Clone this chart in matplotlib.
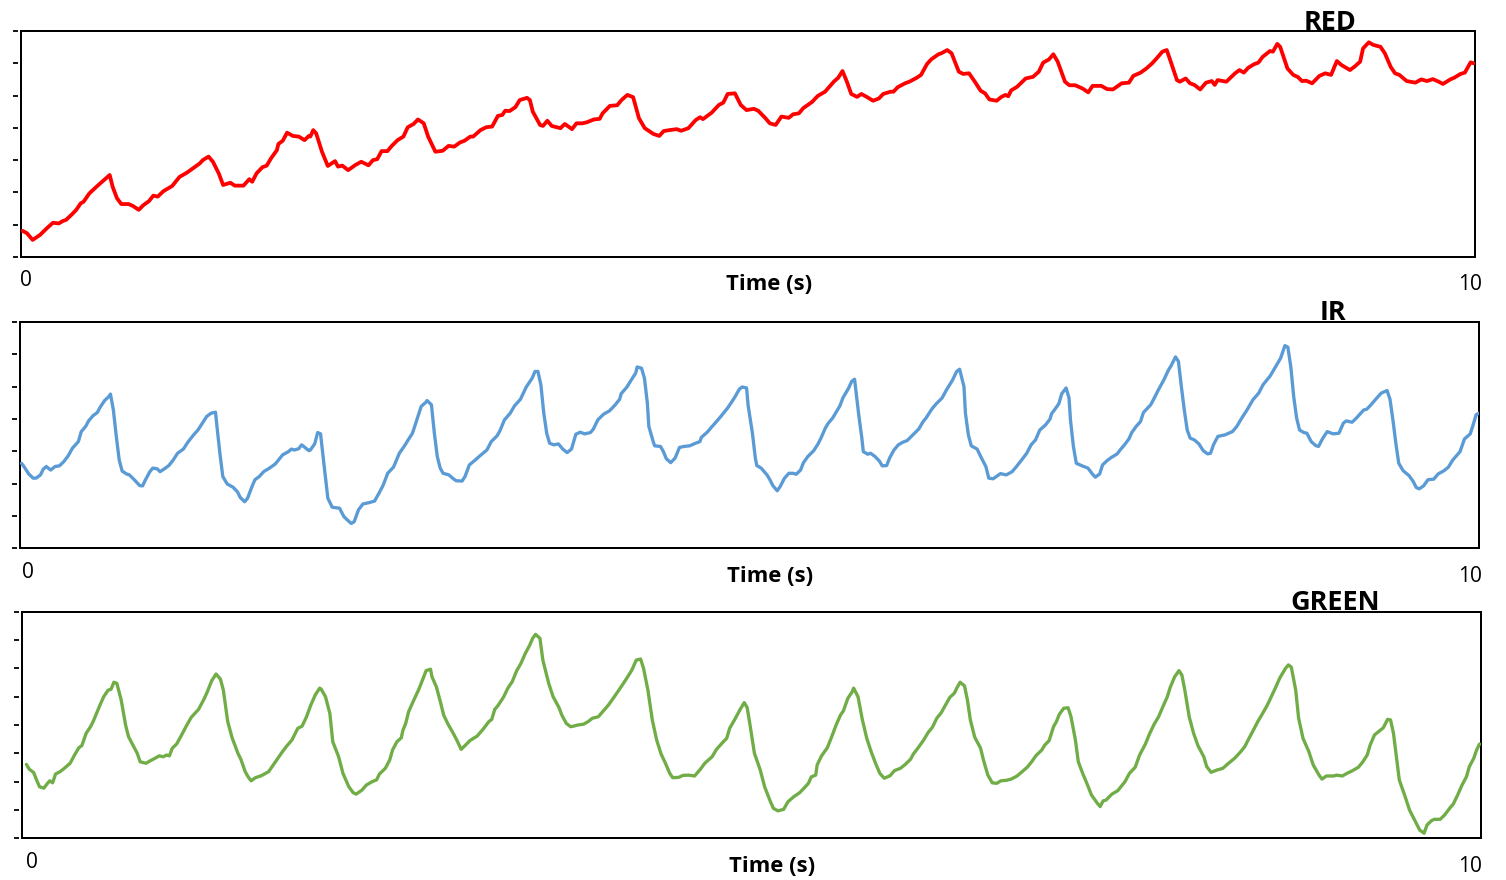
import matplotlib
matplotlib.use("Agg")
import matplotlib.pyplot as plt

# ── Data: time (s) and signal amplitude (a.u.) per channel ──────────────────
red_t = [0.01, 0.04, 0.08, 0.13, 0.18, 0.22, 0.26, 0.29, 0.31, 0.35, 0.38, 0.41, 0.43, 0.47, 0.52,
         0.57, 0.61, 0.63, 0.66, 0.69, 0.74, 0.77, 0.81, 0.84, 0.88, 0.91, 0.94, 0.98, 1.04, 1.06,
         1.09, 1.14, 1.19, 1.23, 1.25, 1.29, 1.32, 1.36, 1.39, 1.44, 1.47, 1.53, 1.57, 1.59, 1.62,
         1.66, 1.69, 1.72, 1.76, 1.77, 1.80, 1.83, 1.87, 1.91, 1.95, 1.98, 1.99, 2.01, 2.03, 2.07,
         2.11, 2.16, 2.18, 2.21, 2.25, 2.30, 2.34, 2.39, 2.42, 2.45, 2.48, 2.52, 2.55, 2.59, 2.63,
         2.66, 2.70, 2.73, 2.77, 2.80, 2.85, 2.90, 2.94, 2.98, 3.02, 3.05, 3.09, 3.11, 3.16, 3.20,
         3.24, 3.28, 3.31, 3.33, 3.36, 3.40, 3.43, 3.48, 3.50, 3.52, 3.57, 3.59, 3.62, 3.65, 3.71,
         3.74, 3.79, 3.82, 3.86, 3.89, 3.94, 3.98, 4.00, 4.05, 4.10, 4.13, 4.17, 4.21, 4.25, 4.29,
         4.35, 4.39, 4.42, 4.46, 4.51, 4.54, 4.59, 4.64, 4.67, 4.69, 4.75, 4.80, 4.83, 4.86, 4.91,
         4.95, 4.99, 5.04, 5.07, 5.12, 5.15, 5.19, 5.23, 5.28, 5.31, 5.35, 5.38, 5.44, 5.48, 5.53,
         5.59, 5.62, 5.65, 5.68, 5.71, 5.75, 5.78, 5.82, 5.86, 5.90, 5.93, 5.98, 6.00, 6.03, 6.08,
         6.11, 6.16, 6.19, 6.23, 6.26, 6.31, 6.33, 6.37, 6.40, 6.45, 6.48, 6.52, 6.56, 6.60, 6.63,
         6.66, 6.71, 6.74, 6.77, 6.79, 6.81, 6.85, 6.91, 6.96, 7.00, 7.03, 7.07, 7.10, 7.13, 7.18,
         7.21, 7.25, 7.30, 7.34, 7.37, 7.43, 7.47, 7.51, 7.57, 7.62, 7.65, 7.70, 7.74, 7.78, 7.81,
         7.85, 7.88, 7.90, 7.95, 7.97, 8.01, 8.04, 8.07, 8.11, 8.15, 8.19, 8.21, 8.23, 8.29, 8.35,
         8.38, 8.41, 8.44, 8.48, 8.51, 8.54, 8.59, 8.61, 8.64, 8.66, 8.71, 8.75, 8.78, 8.81, 8.84,
         8.88, 8.93, 8.97, 9.01, 9.05, 9.08, 9.14, 9.17, 9.21, 9.23, 9.27, 9.30, 9.35, 9.38, 9.42,
         9.45, 9.48, 9.53, 9.59, 9.63, 9.67, 9.71, 9.75, 9.78, 9.83, 9.86, 9.90, 9.93, 9.97, 9.99]
red_v = [0.81, 0.74, 0.53, 0.68, 0.90, 1.06, 1.04, 1.12, 1.15, 1.32, 1.46, 1.66, 1.71, 1.97, 2.18,
         2.38, 2.54, 2.18, 1.82, 1.64, 1.64, 1.58, 1.46, 1.60, 1.73, 1.90, 1.87, 2.04, 2.20, 2.31,
         2.48, 2.61, 2.77, 2.90, 3.00, 3.11, 2.95, 2.59, 2.23, 2.30, 2.21, 2.21, 2.41, 2.33, 2.59,
         2.78, 2.83, 3.06, 3.31, 3.50, 3.60, 3.85, 3.75, 3.73, 3.62, 3.75, 3.73, 3.93, 3.83, 3.26,
         2.82, 2.97, 2.80, 2.83, 2.69, 2.85, 2.95, 2.84, 3.00, 3.03, 3.28, 3.28, 3.44, 3.62, 3.73,
         4.02, 4.12, 4.26, 4.14, 3.73, 3.26, 3.29, 3.44, 3.42, 3.55, 3.60, 3.73, 3.73, 3.93, 4.02,
         4.04, 4.37, 4.40, 4.53, 4.52, 4.64, 4.86, 4.93, 4.86, 4.50, 4.09, 4.06, 4.22, 4.06, 3.99,
         4.12, 3.96, 4.14, 4.14, 4.17, 4.26, 4.28, 4.45, 4.68, 4.70, 4.86, 5.02, 4.95, 4.30, 3.99,
         3.81, 3.75, 3.90, 3.93, 3.96, 3.91, 3.99, 4.24, 4.33, 4.27, 4.47, 4.71, 4.78, 5.05, 5.07,
         4.71, 4.55, 4.59, 4.53, 4.30, 4.14, 4.09, 4.35, 4.31, 4.42, 4.45, 4.61, 4.80, 4.99, 5.12,
         5.43, 5.55, 5.76, 5.43, 5.05, 4.96, 5.05, 4.95, 4.84, 4.91, 5.05, 5.12, 5.12, 5.26, 5.38,
         5.43, 5.55, 5.64, 5.97, 6.12, 6.28, 6.31, 6.41, 6.31, 5.74, 5.67, 5.69, 5.43, 5.15, 5.07,
         4.88, 4.84, 4.95, 5.02, 4.98, 5.16, 5.27, 5.53, 5.58, 5.74, 6.02, 6.12, 6.28, 6.05, 5.43,
         5.32, 5.32, 5.22, 5.10, 5.30, 5.30, 5.20, 5.19, 5.38, 5.40, 5.61, 5.71, 5.84, 6.00, 6.15,
         6.36, 6.41, 6.15, 5.48, 5.43, 5.53, 5.38, 5.33, 5.19, 5.40, 5.45, 5.33, 5.48, 5.43, 5.69,
         5.79, 5.71, 5.86, 5.97, 6.02, 6.20, 6.38, 6.36, 6.60, 6.51, 5.84, 5.64, 5.58, 5.45, 5.46,
         5.38, 5.61, 5.69, 5.64, 6.07, 5.95, 5.79, 5.89, 6.05, 6.46, 6.65, 6.57, 6.51, 6.31, 5.89,
         5.69, 5.64, 5.45, 5.40, 5.50, 5.45, 5.51, 5.43, 5.36, 5.50, 5.56, 5.67, 5.71, 6.03, 6.00]

ir_t = [0.01, 0.03, 0.06, 0.09, 0.11, 0.14, 0.16, 0.18, 0.21, 0.24, 0.27, 0.30, 0.33, 0.36, 0.40,
        0.42, 0.45, 0.47, 0.50, 0.53, 0.55, 0.58, 0.61, 0.62, 0.64, 0.66, 0.68, 0.70, 0.73, 0.75,
        0.79, 0.82, 0.84, 0.86, 0.89, 0.91, 0.94, 0.96, 0.99, 1.02, 1.05, 1.08, 1.12, 1.15, 1.19,
        1.22, 1.25, 1.28, 1.31, 1.34, 1.35, 1.37, 1.39, 1.42, 1.46, 1.49, 1.51, 1.54, 1.56, 1.59,
        1.61, 1.64, 1.67, 1.71, 1.75, 1.80, 1.84, 1.86, 1.88, 1.91, 1.93, 1.95, 1.98, 1.99, 2.02,
        2.04, 2.06, 2.08, 2.11, 2.14, 2.19, 2.22, 2.25, 2.27, 2.29, 2.32, 2.35, 2.39, 2.43, 2.46,
        2.49, 2.52, 2.56, 2.60, 2.64, 2.66, 2.69, 2.72, 2.75, 2.78, 2.79, 2.82, 2.84, 2.86, 2.88,
        2.90, 2.94, 2.97, 2.99, 3.03, 3.05, 3.08, 3.12, 3.16, 3.20, 3.23, 3.27, 3.29, 3.32, 3.36,
        3.39, 3.43, 3.47, 3.51, 3.53, 3.55, 3.57, 3.59, 3.61, 3.63, 3.66, 3.69, 3.72, 3.75, 3.78,
        3.81, 3.84, 3.87, 3.91, 3.93, 3.96, 4.00, 4.04, 4.08, 4.11, 4.12, 4.16, 4.19, 4.22, 4.23,
        4.26, 4.28, 4.30, 4.31, 4.34, 4.35, 4.39, 4.41, 4.43, 4.46, 4.49, 4.52, 4.55, 4.59, 4.63,
        4.66, 4.67, 4.71, 4.74, 4.76, 4.80, 4.83, 4.85, 4.88, 4.90, 4.93, 4.95, 4.98, 4.99, 5.02,
        5.04, 5.05, 5.08, 5.12, 5.14, 5.16, 5.19, 5.21, 5.24, 5.27, 5.30, 5.32, 5.35, 5.37, 5.40,
        5.44, 5.47, 5.49, 5.52, 5.54, 5.57, 5.60, 5.62, 5.64, 5.68, 5.70, 5.72, 5.73, 5.75, 5.77,
        5.78, 5.81, 5.83, 5.86, 5.89, 5.91, 5.94, 5.96, 5.99, 6.02, 6.05, 6.08, 6.12, 6.16, 6.19,
        6.21, 6.25, 6.28, 6.32, 6.35, 6.39, 6.42, 6.44, 6.47, 6.48, 6.50, 6.52, 6.56, 6.59, 6.62,
        6.64, 6.67, 6.72, 6.76, 6.80, 6.83, 6.87, 6.90, 6.93, 6.96, 6.99, 7.03, 7.06, 7.07, 7.09,
        7.12, 7.14, 7.17, 7.19, 7.20, 7.22, 7.24, 7.28, 7.32, 7.35, 7.37, 7.40, 7.42, 7.45, 7.48,
        7.52, 7.54, 7.57, 7.60, 7.62, 7.65, 7.68, 7.70, 7.75, 7.77, 7.80, 7.84, 7.87, 7.89, 7.92,
        7.94, 7.96, 7.98, 8.00, 8.02, 8.05, 8.08, 8.11, 8.14, 8.16, 8.18, 8.21, 8.26, 8.31, 8.34,
        8.37, 8.41, 8.45, 8.49, 8.52, 8.57, 8.60, 8.64, 8.67, 8.69, 8.71, 8.73, 8.75, 8.77, 8.80,
        8.82, 8.85, 8.88, 8.90, 8.93, 8.96, 9.00, 9.04, 9.07, 9.09, 9.13, 9.16, 9.21, 9.23, 9.26,
        9.30, 9.33, 9.37, 9.39, 9.41, 9.43, 9.45, 9.48, 9.52, 9.55, 9.57, 9.59, 9.62, 9.65, 9.69,
        9.72, 9.76, 9.79, 9.82, 9.87, 9.90, 9.94, 9.96, 9.98, 10.00]
ir_v = [2.63, 2.51, 2.30, 2.17, 2.17, 2.27, 2.45, 2.53, 2.42, 2.53, 2.55, 2.68, 2.86, 3.10, 3.30,
        3.61, 3.77, 3.94, 4.10, 4.20, 4.37, 4.57, 4.70, 4.77, 4.28, 3.46, 2.73, 2.39, 2.30, 2.27,
        2.09, 1.94, 1.93, 2.12, 2.37, 2.48, 2.46, 2.37, 2.46, 2.56, 2.73, 2.94, 3.07, 3.28, 3.51,
        3.66, 3.87, 4.08, 4.18, 4.21, 3.77, 2.94, 2.22, 1.99, 1.89, 1.75, 1.57, 1.44, 1.55, 1.91,
        2.12, 2.22, 2.37, 2.48, 2.61, 2.89, 2.99, 3.07, 3.04, 3.08, 3.20, 3.13, 3.02, 3.04, 3.23,
        3.58, 3.54, 2.73, 1.55, 1.27, 1.24, 0.98, 0.85, 0.77, 0.82, 1.19, 1.37, 1.41, 1.46, 1.70,
        1.96, 2.32, 2.51, 2.94, 3.20, 3.35, 3.56, 3.97, 4.39, 4.51, 4.57, 4.44, 3.56, 2.84, 2.48,
        2.32, 2.27, 2.15, 2.09, 2.08, 2.22, 2.58, 2.73, 2.89, 3.04, 3.30, 3.48, 3.64, 3.97, 4.18,
        4.41, 4.61, 4.99, 5.26, 5.47, 5.47, 5.06, 4.18, 3.56, 3.25, 3.20, 3.23, 3.07, 2.96, 3.07,
        3.53, 3.59, 3.54, 3.58, 3.69, 3.97, 4.15, 4.25, 4.44, 4.61, 4.78, 4.99, 5.21, 5.42, 5.61,
        5.57, 5.26, 4.49, 3.77, 3.30, 3.17, 3.15, 2.99, 2.77, 2.65, 2.79, 3.12, 3.15, 3.17, 3.25,
        3.30, 3.43, 3.59, 3.75, 3.85, 4.06, 4.23, 4.34, 4.54, 4.68, 4.92, 4.99, 4.96, 4.44, 3.56,
        2.79, 2.56, 2.48, 2.27, 2.12, 1.94, 1.78, 1.91, 2.17, 2.32, 2.32, 2.29, 2.42, 2.65, 2.84,
        3.02, 3.23, 3.41, 3.72, 3.87, 4.03, 4.26, 4.41, 4.65, 4.96, 5.16, 5.23, 4.85, 4.08, 3.41,
        2.99, 2.91, 2.94, 2.84, 2.70, 2.55, 2.56, 2.79, 3.04, 3.20, 3.28, 3.33, 3.51, 3.69, 3.92,
        4.03, 4.31, 4.47, 4.65, 4.90, 5.19, 5.47, 5.54, 5.00, 4.18, 3.51, 3.17, 3.07, 2.79, 2.53,
        2.17, 2.15, 2.31, 2.27, 2.37, 2.53, 2.76, 2.94, 3.20, 3.35, 3.66, 3.82, 4.00, 4.16, 4.28,
        4.47, 4.78, 4.96, 4.65, 3.97, 3.15, 2.63, 2.55, 2.48, 2.30, 2.20, 2.30, 2.58, 2.71, 2.81,
        2.92, 3.04, 3.20, 3.38, 3.58, 3.77, 3.92, 4.20, 4.44, 4.61, 4.88, 5.21, 5.50, 5.65, 5.92,
        5.78, 5.00, 4.28, 3.66, 3.41, 3.35, 3.23, 3.02, 2.92, 2.94, 3.20, 3.46, 3.51, 3.61, 3.77,
        4.00, 4.28, 4.59, 4.80, 5.06, 5.34, 5.57, 5.88, 6.27, 6.22, 5.62, 4.69, 4.03, 3.66, 3.58,
        3.56, 3.30, 3.18, 3.15, 3.41, 3.61, 3.54, 3.56, 3.87, 3.94, 3.90, 4.03, 4.28, 4.30, 4.44,
        4.65, 4.80, 4.88, 4.61, 3.97, 3.25, 2.63, 2.40, 2.25, 2.06, 1.88, 1.84, 1.93, 2.12, 2.14,
        2.30, 2.40, 2.51, 2.73, 2.99, 3.38, 3.54, 3.82, 4.13, 4.18]

green_t = [0.03, 0.05, 0.08, 0.10, 0.12, 0.15, 0.17, 0.19, 0.21, 0.23, 0.26, 0.29, 0.33, 0.36, 0.39,
           0.41, 0.44, 0.47, 0.49, 0.53, 0.56, 0.59, 0.61, 0.63, 0.65, 0.68, 0.71, 0.73, 0.76, 0.79,
           0.81, 0.85, 0.88, 0.91, 0.94, 0.97, 0.99, 1.01, 1.03, 1.06, 1.09, 1.13, 1.16, 1.21, 1.25,
           1.27, 1.30, 1.33, 1.36, 1.38, 1.41, 1.44, 1.48, 1.50, 1.53, 1.55, 1.57, 1.60, 1.64, 1.69,
           1.73, 1.78, 1.81, 1.85, 1.89, 1.92, 1.95, 1.98, 2.01, 2.04, 2.05, 2.08, 2.11, 2.13, 2.17,
           2.20, 2.24, 2.27, 2.29, 2.33, 2.36, 2.40, 2.43, 2.45, 2.49, 2.52, 2.54, 2.57, 2.60, 2.61,
           2.63, 2.65, 2.68, 2.72, 2.75, 2.77, 2.80, 2.81, 2.84, 2.87, 2.89, 2.92, 2.95, 2.98, 3.01,
           3.04, 3.07, 3.12, 3.16, 3.20, 3.22, 3.24, 3.26, 3.30, 3.33, 3.36, 3.39, 3.42, 3.45, 3.48,
           3.50, 3.52, 3.55, 3.57, 3.61, 3.64, 3.68, 3.70, 3.73, 3.76, 3.78, 3.81, 3.85, 3.88, 3.91,
           3.95, 3.98, 4.02, 4.06, 4.10, 4.14, 4.18, 4.21, 4.24, 4.26, 4.29, 4.32, 4.35, 4.38, 4.41,
           4.44, 4.46, 4.50, 4.53, 4.57, 4.61, 4.65, 4.68, 4.73, 4.76, 4.80, 4.83, 4.85, 4.89, 4.92,
           4.95, 4.97, 4.99, 5.02, 5.06, 5.09, 5.13, 5.15, 5.18, 5.22, 5.25, 5.29, 5.33, 5.36, 5.39,
           5.41, 5.44, 5.45, 5.48, 5.52, 5.55, 5.58, 5.61, 5.63, 5.66, 5.69, 5.70, 5.73, 5.76, 5.79,
           5.82, 5.85, 5.88, 5.91, 5.95, 5.98, 6.02, 6.05, 6.09, 6.11, 6.14, 6.18, 6.21, 6.24, 6.27,
           6.30, 6.33, 6.36, 6.39, 6.41, 6.43, 6.46, 6.48, 6.50, 6.53, 6.57, 6.59, 6.62, 6.65, 6.68,
           6.71, 6.75, 6.78, 6.82, 6.85, 6.89, 6.92, 6.95, 6.99, 7.01, 7.04, 7.07, 7.09, 7.11, 7.14,
           7.17, 7.19, 7.22, 7.24, 7.27, 7.30, 7.33, 7.37, 7.39, 7.41, 7.43, 7.47, 7.51, 7.56, 7.59,
           7.63, 7.66, 7.70, 7.73, 7.76, 7.79, 7.82, 7.85, 7.87, 7.90, 7.93, 7.95, 7.97, 8.00, 8.03,
           8.06, 8.10, 8.12, 8.15, 8.19, 8.23, 8.27, 8.31, 8.35, 8.38, 8.41, 8.44, 8.47, 8.50, 8.53,
           8.55, 8.59, 8.62, 8.66, 8.68, 8.70, 8.73, 8.75, 8.78, 8.82, 8.85, 8.89, 8.91, 8.94, 8.99,
           9.01, 9.05, 9.08, 9.12, 9.16, 9.19, 9.22, 9.24, 9.27, 9.31, 9.33, 9.36, 9.38, 9.40, 9.42,
           9.44, 9.48, 9.51, 9.55, 9.58, 9.61, 9.63, 9.66, 9.68, 9.72, 9.75, 9.79, 9.81, 9.84, 9.87,
           9.90, 9.92, 9.95, 9.97, 9.99]
green_v = [2.61, 2.44, 2.32, 2.06, 1.82, 1.77, 1.91, 2.03, 1.96, 2.27, 2.35, 2.47, 2.65, 2.94, 3.20,
           3.27, 3.71, 3.94, 4.15, 4.65, 5.00, 5.23, 5.26, 5.51, 5.47, 4.88, 4.00, 3.59, 3.29, 3.00,
           2.70, 2.65, 2.74, 2.82, 2.91, 2.88, 2.94, 2.91, 3.18, 3.33, 3.61, 4.00, 4.27, 4.55, 4.94,
           5.17, 5.56, 5.80, 5.62, 5.23, 4.12, 3.55, 3.00, 2.79, 2.35, 2.17, 2.03, 2.14, 2.21, 2.35,
           2.65, 3.02, 3.23, 3.47, 3.88, 3.96, 4.29, 4.71, 5.06, 5.30, 5.27, 5.00, 4.41, 3.41, 2.88,
           2.29, 1.82, 1.61, 1.56, 1.70, 1.88, 2.00, 2.06, 2.27, 2.47, 2.76, 3.12, 3.41, 3.55, 3.80,
           4.06, 4.47, 4.82, 5.26, 5.65, 5.92, 5.97, 5.70, 5.35, 4.77, 4.35, 4.03, 3.76, 3.47, 3.14,
           3.29, 3.45, 3.61, 3.85, 4.12, 4.20, 4.55, 4.67, 4.98, 5.30, 5.53, 5.91, 6.18, 6.53, 6.82,
           7.06, 7.20, 7.06, 6.29, 5.47, 5.00, 4.62, 4.35, 4.06, 3.94, 3.96, 4.00, 4.03, 4.12, 4.24,
           4.29, 4.47, 4.71, 5.00, 5.30, 5.61, 5.94, 6.29, 6.33, 6.00, 5.23, 4.18, 3.47, 2.98, 2.65,
           2.29, 2.14, 2.15, 2.22, 2.23, 2.20, 2.44, 2.65, 2.88, 3.14, 3.37, 3.53, 3.88, 4.24, 4.53,
           4.79, 4.62, 4.00, 3.00, 2.41, 1.82, 1.29, 1.06, 0.97, 1.02, 1.29, 1.47, 1.61, 1.77, 1.94,
           2.17, 2.23, 2.59, 2.91, 3.20, 3.59, 4.00, 4.35, 4.50, 4.94, 5.17, 5.30, 5.00, 4.18, 3.53,
           3.06, 2.65, 2.29, 2.12, 2.21, 2.39, 2.47, 2.59, 2.79, 2.98, 3.18, 3.47, 3.73, 3.92, 4.24,
           4.43, 4.71, 4.98, 5.12, 5.33, 5.51, 5.38, 4.88, 4.18, 3.57, 3.18, 2.76, 2.23, 1.96, 1.94,
           2.03, 2.05, 2.09, 2.20, 2.33, 2.51, 2.70, 2.92, 3.12, 3.29, 3.45, 3.94, 4.12, 4.38, 4.59,
           4.61, 4.29, 3.47, 2.70, 2.29, 1.92, 1.53, 1.24, 1.12, 1.32, 1.35, 1.56, 1.68, 2.00, 2.29,
           2.51, 2.94, 3.33, 3.71, 4.03, 4.29, 4.65, 5.00, 5.33, 5.70, 5.92, 5.76, 5.23, 4.29, 3.71,
           3.27, 2.88, 2.53, 2.33, 2.41, 2.47, 2.65, 2.82, 3.04, 3.23, 3.53, 3.82, 4.12, 4.38, 4.65,
           4.86, 5.30, 5.65, 6.00, 6.12, 6.04, 5.23, 4.24, 3.53, 3.06, 2.59, 2.23, 2.09, 2.20, 2.20,
           2.23, 2.20, 2.29, 2.39, 2.51, 2.70, 2.94, 3.29, 3.65, 3.82, 3.90, 4.20, 4.18, 3.71, 2.88,
           2.06, 1.47, 1.00, 0.59, 0.29, 0.18, 0.47, 0.62, 0.67, 0.67, 0.82, 1.09, 1.21, 1.53, 1.88,
           2.17, 2.53, 2.82, 3.12, 3.33]

# ── Style ─────────────────────────────────────────────────────────────────────
RED_COLOR   = "#FF0000"
IR_COLOR    = "#5B9BD5"
GREEN_COLOR = "#70AD47"
FONT        = ["Open Sans", "DejaVu Sans"]

W, H, DPI = 1506, 880, 72          # at 72 dpi, 1 pt == 1 px

panels = [
    # title, t, v, colour, line width, y max, axes box (left, top, right, bottom) in px,
    # x offsets of the "0" / "10" labels in px
    ("RED",   red_t,   red_v,   RED_COLOR,   3.8, 7, (21, 31.0, 1475, 257.0),  (5, -5)),
    ("IR",    ir_t,    ir_v,    IR_COLOR,    3.3, 7, (20, 322.0, 1479, 548.3), (8, -9)),
    ("GREEN", green_t, green_v, GREEN_COLOR, 3.3, 8, (22, 611.7, 1481, 838.3), (10, -11)),
]

fig = plt.figure(figsize=(W / DPI, H / DPI), dpi=DPI, facecolor="white")

for title, t, v, color, lw, ymax, (l, top, r, b), (dx0, dx10) in panels:
    ax = fig.add_axes([l / W, (H - b) / H, (r - l) / W, (b - top) / H])
    ax.plot(t, v, color=color, linewidth=lw, solid_joinstyle="round",
            solid_capstyle="round", zorder=3)
    ax.set_xlim(0, 10)
    ax.set_ylim(0, ymax)
    ax.set_yticks(range(ymax + 1))
    ax.tick_params(left=False, labelleft=False, bottom=False, labelbottom=False)
    for spine in ax.spines.values():
        spine.set_linewidth(2)
        spine.set_edgecolor("black")

    # y ticks drawn a little away from the frame (Excel style)
    gap = 3.0 / (r - l)
    sec = ax.secondary_yaxis(-gap)
    sec.spines["left"].set_visible(False)
    sec.set_yticks(range(ymax + 1))
    sec.tick_params(axis="y", direction="out", length=5.5, width=1.8,
                    labelleft=False, color="black")

    # x-axis end labels and axis title
    ax.annotate("0", xy=(0, 0), xycoords=("data", "axes fraction"),
                xytext=(dx0, -24), textcoords="offset points",
                ha="center", va="center", fontsize=21, family=FONT)
    ax.annotate("10", xy=(10, 0), xycoords=("data", "axes fraction"),
                xytext=(dx10, -28), textcoords="offset points",
                ha="center", va="center", fontsize=21, family=FONT)
    ax.annotate("Time (s)", xy=(5, 0), xycoords=("data", "axes fraction"),
                xytext=(21, -28), textcoords="offset points",
                ha="center", va="center", fontsize=22, fontweight="bold",
                family=FONT)

    # channel title sitting on the top frame line
    ax.annotate(title, xy=(0.90, 1.0), xycoords="axes fraction",
                xytext=(0, 1.5), textcoords="offset points",
                ha="center", va="baseline", fontsize=27, fontweight="bold",
                family=FONT, zorder=5)

fig.savefig("out.png", dpi=DPI, facecolor="white")
